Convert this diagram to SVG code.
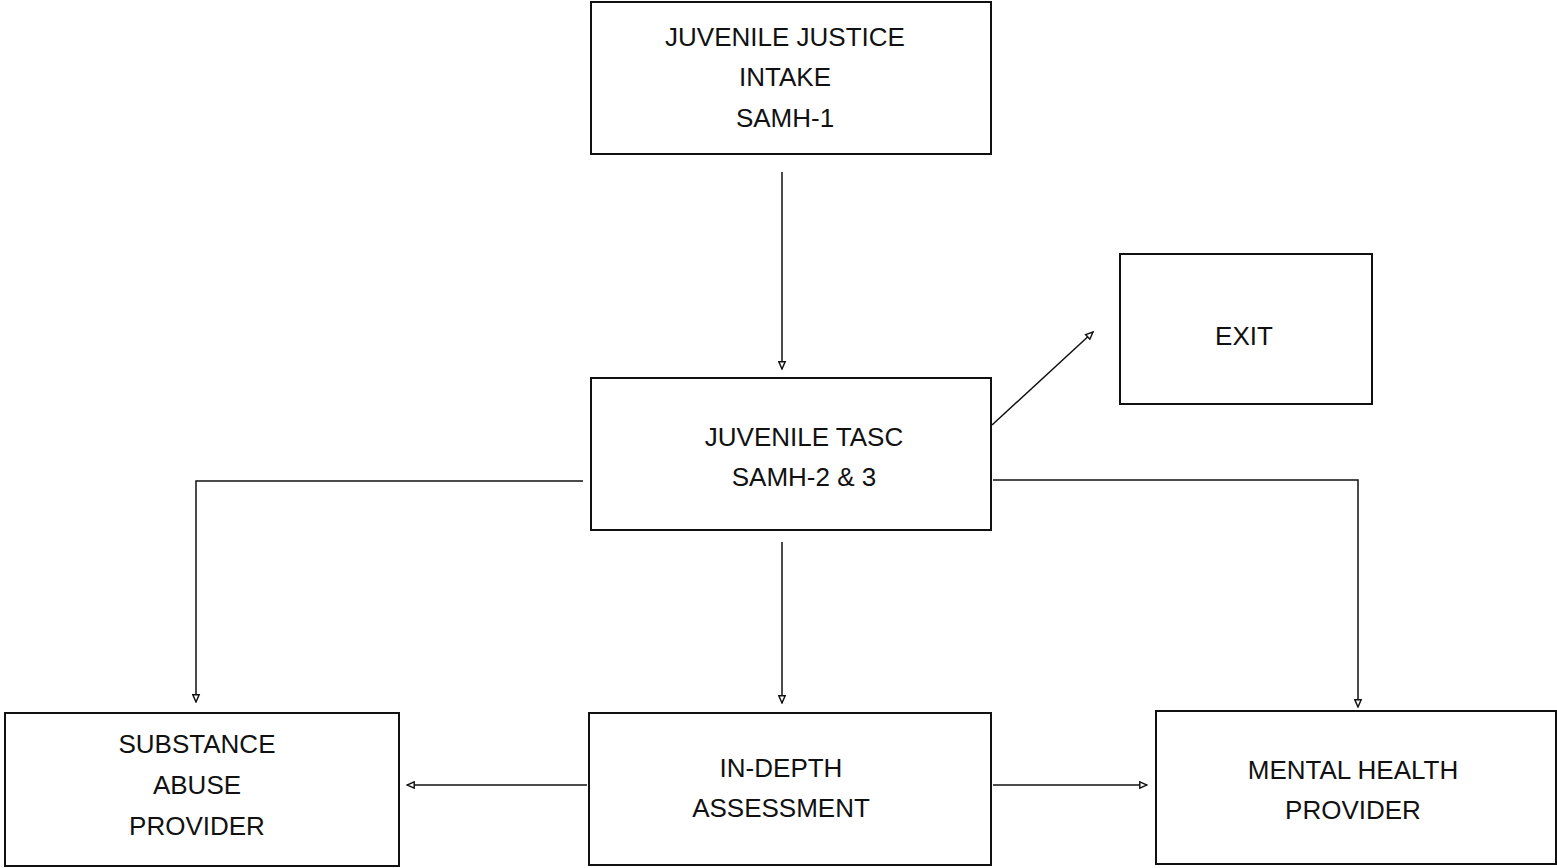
<svg xmlns="http://www.w3.org/2000/svg" width="1557" height="868" viewBox="0 0 1557 868">
<style>
.box{fill:#fff;stroke:#111;stroke-width:2}
.t{font-family:"Liberation Sans",Arial,sans-serif;font-size:26px;fill:#111;text-anchor:middle}
.c{fill:none;stroke:#111;stroke-width:1.5}
</style>
<defs>
<marker id="ah" viewBox="0 0 10 10" refX="9" refY="5" markerWidth="9" markerHeight="9" markerUnits="userSpaceOnUse" orient="auto">
<path d="M1,1.5 L9,5 L1,8.5 Z" fill="#fff" stroke="#111" stroke-width="1.6"/>
</marker>
</defs>
<rect width="1557" height="868" fill="#fff"/>
<g id="connectors">
<line class="c" x1="782" y1="172" x2="782" y2="369" marker-end="url(#ah)"/>
<line class="c" x1="992" y1="425" x2="1093" y2="332" marker-end="url(#ah)"/>
<polyline class="c" points="583,481 196,481 196,702" marker-end="url(#ah)"/>
<line class="c" x1="782" y1="542" x2="782" y2="703" marker-end="url(#ah)"/>
<polyline class="c" points="993,480 1358,480 1358,707" marker-end="url(#ah)"/>
<line class="c" x1="587" y1="785" x2="407" y2="785" marker-end="url(#ah)"/>
<line class="c" x1="993" y1="785" x2="1147" y2="785" marker-end="url(#ah)"/>
</g>
<g id="intake">
<rect class="box" x="591" y="2" width="400" height="152"/>
<text class="t" x="785" y="46">JUVENILE JUSTICE</text>
<text class="t" x="785" y="86">INTAKE</text>
<text class="t" x="785" y="127">SAMH-1</text>
</g>
<g id="exit">
<rect class="box" x="1120" y="254" width="252" height="150"/>
<text class="t" x="1244" y="345">EXIT</text>
</g>
<g id="tasc">
<rect class="box" x="591" y="378" width="400" height="152"/>
<text class="t" x="804" y="446">JUVENILE TASC</text>
<text class="t" x="804" y="486">SAMH-2 &amp; 3</text>
</g>
<g id="substance">
<rect class="box" x="5" y="713" width="394" height="153"/>
<text class="t" x="197" y="753">SUBSTANCE</text>
<text class="t" x="197" y="794">ABUSE</text>
<text class="t" x="197" y="835">PROVIDER</text>
</g>
<g id="assessment">
<rect class="box" x="589" y="713" width="402" height="152"/>
<text class="t" x="781" y="777">IN-DEPTH</text>
<text class="t" x="781" y="817">ASSESSMENT</text>
</g>
<g id="mental">
<rect class="box" x="1156" y="711" width="400" height="153"/>
<text class="t" x="1353" y="779">MENTAL HEALTH</text>
<text class="t" x="1353" y="819">PROVIDER</text>
</g>
</svg>
